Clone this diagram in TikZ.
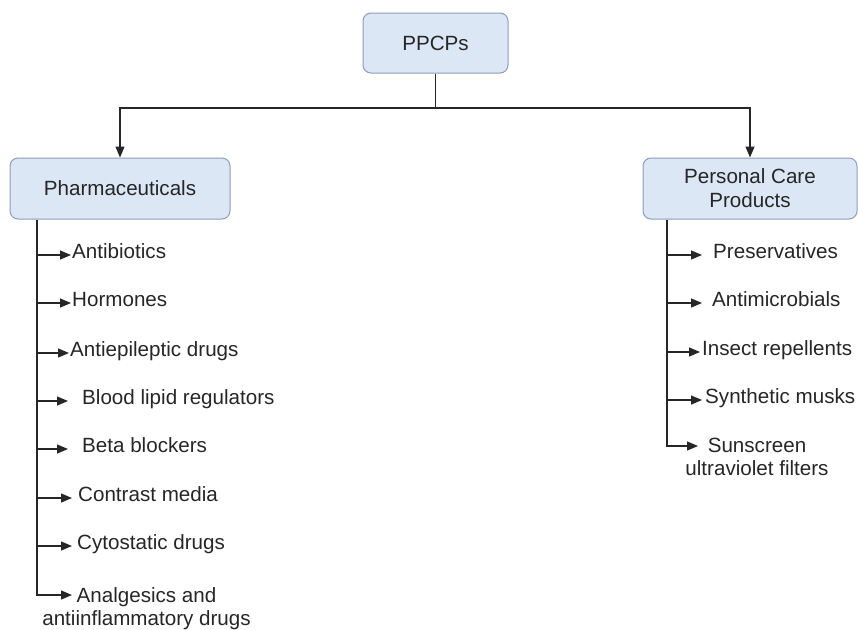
\documentclass[tikz,border=0pt]{standalone}
\usepackage{fontspec}
\setmainfont{Liberation Sans}
\usetikzlibrary{arrows.meta}
\definecolor{boxfill}{HTML}{DCE7F6}
\definecolor{boxline}{HTML}{8C9DB8}
\definecolor{ink}{HTML}{262626}
\begin{document}
\begin{tikzpicture}[x=1pt,y=-1pt,
  txtfont/.style={font=\fontsize{20.6}{23}\selectfont, text=ink},
  cat/.style={txtfont, draw=boxline, fill=boxfill, rounded corners=8pt,
    line width=1pt, align=center, inner sep=0pt},
  item/.style={txtfont, anchor=west, inner ysep=0pt,
    text height=0.75em, text depth=0.05em},
  multi/.style={txtfont, align=center, inner sep=0pt, anchor=north},
  link/.style={draw=ink, line width=1.2pt},
  arr/.style={link, -{Triangle[length=11pt,width=9pt]}}]
\useasboundingbox (0,0) rectangle (858,629);

% category boxes
\node[cat, minimum width=145pt, minimum height=60pt] (ppcp) at (435.5,43) {PPCPs};
\node[cat, minimum width=220pt, minimum height=61pt] (pharma) at (120,188.5) {Pharmaceuticals};
\node[cat, minimum width=214pt, minimum height=61pt, font=\fontsize{20.6}{24}\selectfont] (pcp) at (750,188.5) {Personal Care\\Products};

% top split
\coordinate (split) at (435.5,108);
\draw[link] (ppcp.south) -- (split);
\draw[arr] (split) -| (pharma.north);
\draw[arr] (split) -| (pcp.north);

% pharmaceuticals list
\coordinate (lt) at (37,0);
\node[item, inner xsep=1pt] (p1) at (71,255) {Antibiotics};
\node[item, inner xsep=1pt] (p2) at (71,303) {Hormones};
\node[item, inner xsep=1pt] (p3) at (69,353) {Antiepileptic drugs};
\node[item, inner xsep=14pt] (p4) at (68,401) {Blood lipid regulators};
\node[item, inner xsep=14pt] (p5) at (68,449) {Beta blockers};
\node[item, inner xsep=6pt] (p6) at (72,498) {Contrast media};
\node[item, inner xsep=5pt] (p7) at (72,546) {Cytostatic drugs};
\coordinate (a8) at (72,595);
\node[multi] (p8) at (146.5,587) {Analgesics and\\antiinflammatory drugs};

\draw[arr] (pharma.south -| lt) |- (a8);
\foreach \n in {p1,p2,p3,p4,p5,p6,p7}
  \draw[arr] (lt |- \n.west) -- (\n.west);

% personal care products list
\coordinate (rt) at (667,0);
\node[item, inner xsep=11pt] (c1) at (702,255) {Preservatives};
\node[item, inner xsep=10pt] (c2) at (702,303) {Antimicrobials};
\node[item, inner xsep=2pt] (c3) at (700,352) {Insect repellents};
\node[item, inner xsep=3pt] (c4) at (702,400) {Synthetic musks};
\coordinate (s5) at (698,446);
\node[multi] (c5) at (757,438) {Sunscreen\\ultraviolet filters};

\draw[arr] (pcp.south -| rt) |- (s5);
\foreach \n in {c1,c2,c3,c4}
  \draw[arr] (rt |- \n.west) -- (\n.west);
\end{tikzpicture}
\end{document}
